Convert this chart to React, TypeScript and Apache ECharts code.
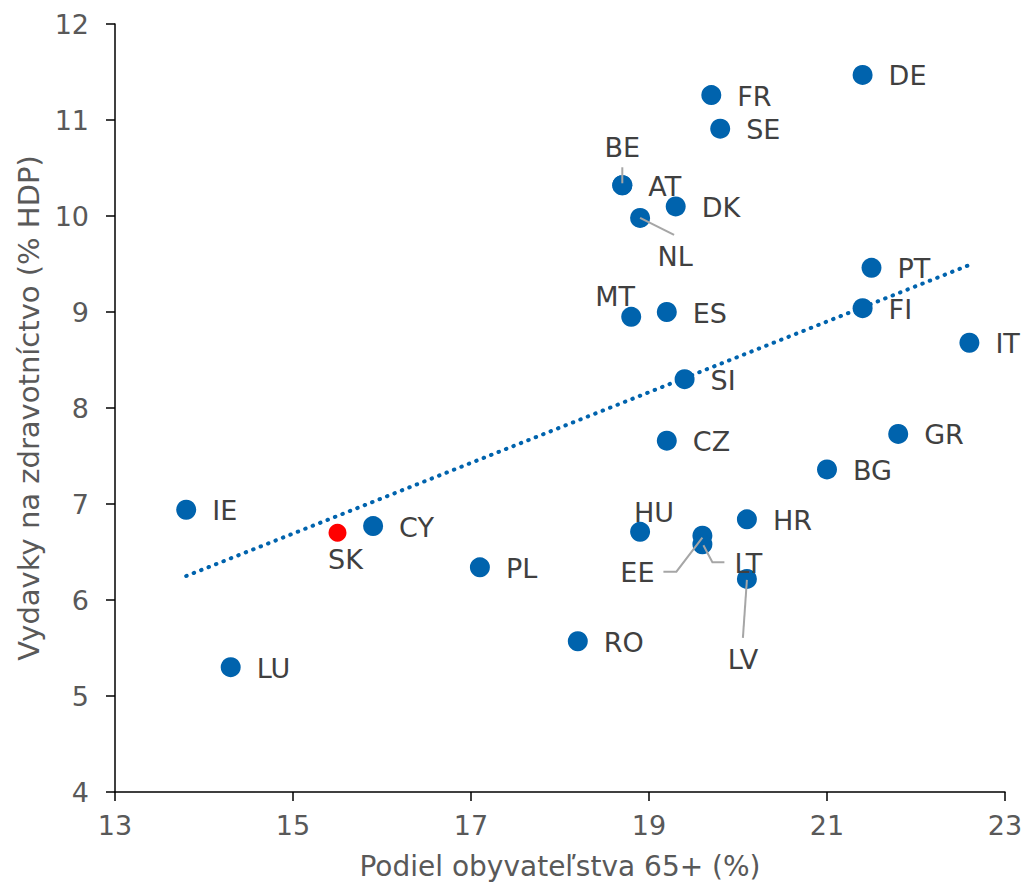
import React, { useEffect, useRef } from 'react';
import * as echarts from 'echarts';

// ---- data ----
const countries = ['DE', 'FR', 'SE', 'BE', 'AT', 'DK', 'NL', 'PT', 'FI', 'MT', 'ES', 'IT', 'SI', 'CZ', 'GR', 'BG', 'IE', 'SK', 'CY', 'HU', 'EE', 'LT', 'HR', 'PL', 'LV', 'RO', 'LU'];
const population65 = [21.4, 19.7, 19.8, 18.7, 18.7, 19.3, 18.9, 21.5, 21.4, 18.8, 19.2, 22.6, 19.4, 19.2, 21.8, 21.0, 13.8, 15.5, 15.9, 18.9, 19.6, 19.6, 20.1, 17.1, 20.1, 18.2, 14.3];
const healthSpending = [11.47, 11.26, 10.91, 10.32, 10.32, 10.10, 9.98, 9.46, 9.04, 8.95, 9.00, 8.68, 8.30, 7.66, 7.73, 7.36, 6.94, 6.70, 6.77, 6.71, 6.67, 6.58, 6.84, 6.34, 6.22, 5.57, 5.30];
const highlighted = ['SK'];
const trendX = [13.8, 22.6];
const trendY = [6.25, 9.49];
const xAxisRange = [13, 23, 2];
const yAxisRange = [4, 12, 1];
const xAxisName = 'Podiel obyvateľstva 65+ (%)';
const yAxisName = 'Vydavky na zdravotníctvo (% HDP)';

// ---- label layout (pixel offsets from point centre) ----
const specialLabels: Record<string, { offset: [number, number]; align: string }> = {
  BE: { offset: [0, -38], align: 'center' },
  NL: { offset: [35, 39], align: 'center' },
  MT: { offset: [-16, -20], align: 'center' },
  SK: { offset: [8, 27], align: 'center' },
  HU: { offset: [14, -19], align: 'center' },
  EE: { offset: [-65, 37], align: 'center' },
  LT: { offset: [32, 19], align: 'left' },
  LV: { offset: [-4, 81], align: 'center' },
};
const leaderPaths: Record<string, [number, number][]> = {
  BE: [[0, -18], [0, -2]],
  NL: [[0, 0], [34, 17]],
  EE: [[0, 2], [-26, 36], [-39, 36]],
  LT: [[1, 1], [10, 18], [22, 18]],
  LV: [[0, 1], [-4, 59]],
};

const BLUE = '#0063AD';
const RED = '#FF0000';
const FONT = 'DejaVu Sans';

export default function App() {
  const ref = useRef<HTMLDivElement>(null);
  useEffect(() => {
    if (!ref.current) return;
    const chart = echarts.init(ref.current, undefined, { renderer: 'svg' });

    const scatterData = countries.map((c, i) => {
      const isHi = highlighted.includes(c);
      const sp = specialLabels[c];
      const label = sp
        ? { show: true, position: 'inside', offset: sp.offset, align: sp.align, verticalAlign: 'middle' }
        : { show: true, position: 'right', distance: 16, offset: [0, 1] };
      return {
        name: c,
        value: [population65[i], healthSpending[i]],
        symbolSize: isHi ? 18 : 20,
        itemStyle: { color: isHi ? RED : BLUE, opacity: 1 },
        label,
      };
    });

    const leaderNames = Object.keys(leaderPaths);
    const leaderData = leaderNames.map((n) => {
      const i = countries.indexOf(n);
      return [population65[i], healthSpending[i]];
    });

    const option: any = {
      animation: false,
      grid: { left: 115, right: 23, top: 24, bottom: 95, containLabel: false },
      xAxis: {
        type: 'value',
        min: xAxisRange[0],
        max: xAxisRange[1],
        interval: xAxisRange[2],
        name: xAxisName,
        nameLocation: 'middle',
        nameGap: 60,
        nameTextStyle: { color: '#595959', fontSize: 28, fontFamily: FONT },
        axisLine: { onZero: false, lineStyle: { color: '#000', width: 1.5 } },
        axisTick: { show: true, length: 9, lineStyle: { color: '#000', width: 1.5 } },
        axisLabel: { color: '#595959', fontSize: 27, fontFamily: FONT, margin: 20 },
        splitLine: { show: false },
      },
      yAxis: {
        type: 'value',
        min: yAxisRange[0],
        max: yAxisRange[1],
        interval: yAxisRange[2],
        name: yAxisName,
        nameLocation: 'middle',
        nameGap: 63,
        nameTextStyle: { color: '#595959', fontSize: 29, fontFamily: FONT },
        axisLine: { onZero: false, lineStyle: { color: '#000', width: 1.5 } },
        axisTick: { show: true, length: 9, lineStyle: { color: '#000', width: 1.5 } },
        axisLabel: { color: '#595959', fontSize: 27, fontFamily: FONT, margin: 26 },
        splitLine: { show: false },
      },
      series: [
        {
          type: 'line',
          data: trendX.map((x, i) => [x, trendY[i]]),
          symbol: 'none',
          z: 1,
          lineStyle: { color: BLUE, width: 4, type: [0.5, 7.5], cap: 'round' },
          silent: true,
        },
        {
          type: 'scatter',
          data: scatterData,
          z: 2,
          label: {
            color: '#404040',
            fontSize: 27,
            fontFamily: FONT,
            formatter: (p: any) => p.name,
          },
        },
        {
          type: 'custom',
          z: 3,
          data: leaderData,
          renderItem: (params: any, api: any) => {
            const c = api.coord([api.value(0), api.value(1)]);
            const pts = leaderPaths[leaderNames[params.dataIndex]].map(([dx, dy]) => [c[0] + dx, c[1] + dy]);
            return {
              type: 'polyline',
              shape: { points: pts },
              style: { stroke: '#A6A6A6', lineWidth: 2, fill: 'none' },
            };
          },
          silent: true,
        },
      ],
    };
    chart.setOption(option);
    return () => chart.dispose();
  }, []);
  return <div ref={ref} style={{ position: 'absolute', left: 0, top: 0, width: 1028, height: 887 }} />;
}
